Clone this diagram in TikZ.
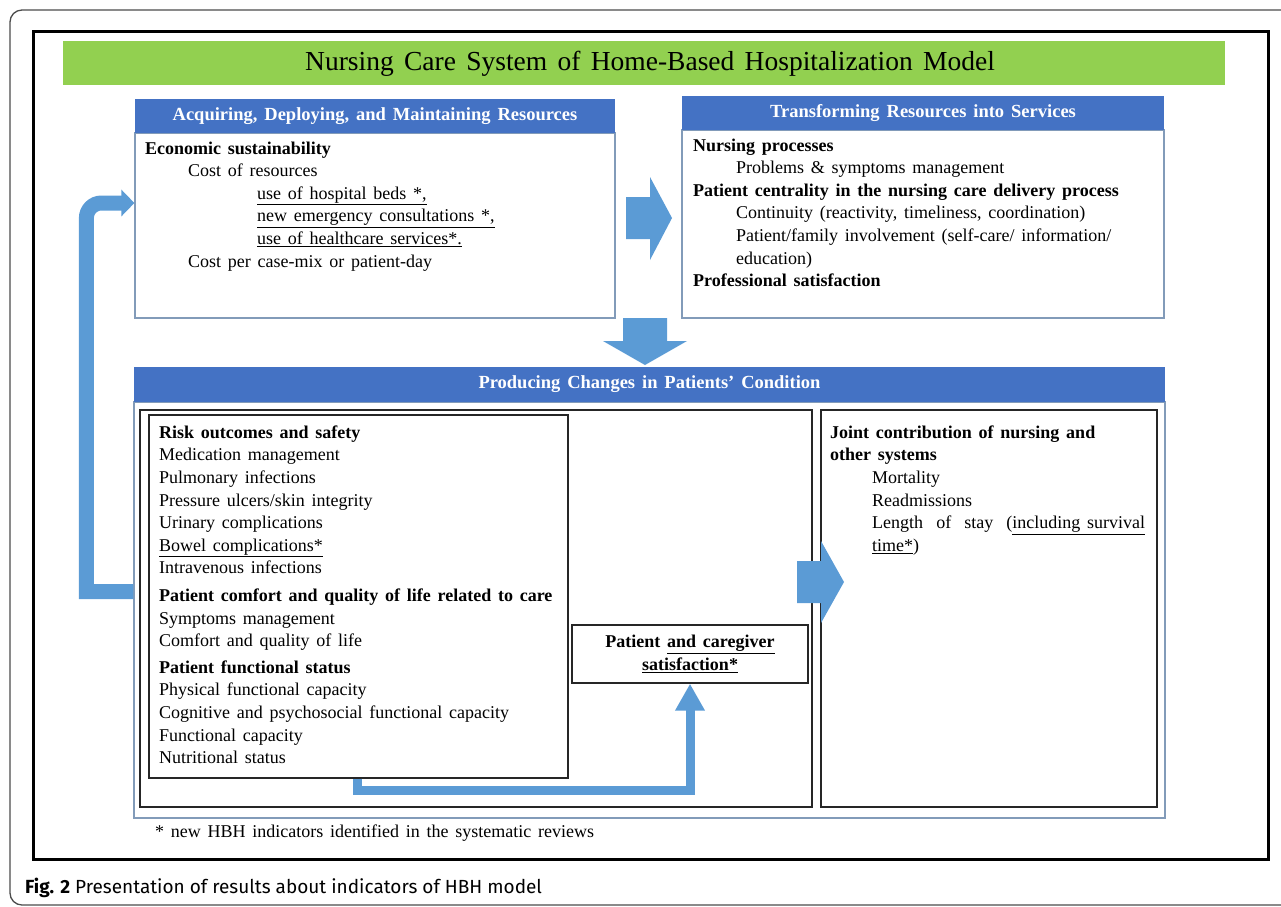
\documentclass[tikz,border=0pt]{standalone}
\usepackage{fontspec}
\setmainfont[WordSpace=1.5]{Liberation Serif}
\newfontfamily\capfont{Fira Sans}
\usetikzlibrary{arrows.meta}

\definecolor{hbhgreen}{RGB}{146,208,80}
\definecolor{hbhblue}{RGB}{68,114,196}
\definecolor{arrowblue}{RGB}{91,155,213}
\definecolor{bodyline}{RGB}{130,155,185}

\tikzset{
  hdr/.style={fill=hbhblue, text=white, inner sep=0pt, minimum height=34pt,
    font=\fontsize{18.5}{21}\selectfont\bfseries},
  panel/.style={draw=bodyline, line width=1.2pt, inner sep=0pt},
  inbox/.style={draw=black!85, line width=1.3pt, inner sep=0pt},
  txt/.style={anchor=north west, inner sep=0pt, align=left,
    font=\fontsize{18}{22.6}\selectfont},
  blockarrow/.style={fill=arrowblue},
  conn/.style={draw=arrowblue, line width=9pt, line join=miter,
    -{Triangle[width=28pt,length=27pt]}},
  fback/.style={draw=arrowblue, line width=15pt, line join=miter,
    -{Triangle[width=26pt,length=13pt]}}
}

\begin{document}
\begin{tikzpicture}[x=1pt,y=-1pt]
    \useasboundingbox (0,0) rectangle (1281,906);
    % Frames
    \draw[black!70, line width=1.3pt, rounded corners=12pt] (1300,905) -- (10,905) -- (10,10) -- (1300,10);
    \draw[line width=3pt] (33,31) rectangle (1268,859);

    % Title banner
    \node[fill=hbhgreen, minimum width=1162pt, minimum height=44pt, inner sep=0pt] (banner) at (644,63) {};
    \node[font=\fontsize{27.5}{30}\selectfont, inner sep=0pt] (title) at (650,64) {Nursing Care System of Home-Based Hospitalization Model};

    % Resources box
    \node[panel, minimum width=480pt, minimum height=185pt] (acqbody) at (375,225.5) {};
    \node[hdr, minimum width=480pt] (acqhdr) at (375,116) {Acquiring, Deploying, and Maintaining Resources};
    \node[txt] (acqtext) at (145,141.5) {\textbf{Economic sustainability}\\
        \hspace*{43pt}Cost of resources\\
        \hspace*{112pt}\underline{use of hospital beds *,}\\
        \hspace*{112pt}\underline{new emergency consultations *,}\\
        \hspace*{112pt}\underline{use of healthcare services*.}\\
        \hspace*{43pt}Cost per case-mix or patient-day};

    % Services box
    \node[panel, minimum width=482pt, minimum height=188pt] (trbody) at (923,224) {};
    \node[hdr, minimum width=482pt] (trhdr) at (923,113) {Transforming Resources into Services};
    \node[txt] (trtext) at (693,138.5) {\textbf{Nursing processes}\\
        \hspace*{43pt}Problems \& symptoms management\\
        \textbf{Patient centrality in the nursing care delivery process}\\
        \hspace*{43pt}Continuity (reactivity, timeliness, coordination)\\
        \hspace*{43pt}Patient/family involvement (self-care/ information/\\
        \hspace*{43pt}education)\\
        \textbf{Professional satisfaction}};

    % Patients' condition box
    \node[panel, minimum width=1031pt, minimum height=416pt] (prodbody) at (649.5,610) {};
    \node[hdr, minimum width=1031pt, minimum height=35pt] (prodhdr) at (649.5,384.5) {Producing Changes in Patients’ Condition};
    \node[inbox, minimum width=672pt, minimum height=397pt] (outcomes) at (476,608.5) {};
    \node[inbox, minimum width=419pt, minimum height=363pt] (list) at (358.5,596.5) {};
    \node[inbox, minimum width=236pt, minimum height=58pt] (sat) at (690,654) {};
    \node[inbox, minimum width=336pt, minimum height=397pt] (joint) at (989,608.5) {};

    \node[txt] (listtext) at (159,425.5) {\textbf{Risk outcomes and safety}\\
        Medication management\\
        Pulmonary infections\\
        Pressure ulcers/skin integrity\\
        Urinary complications\\
        \underline{Bowel complications*}\\
        Intravenous infections\\[5pt]
        \textbf{Patient comfort and quality of life related to care}\\
        Symptoms management\\
        Comfort and quality of life\\[4pt]
        \textbf{Patient functional status}\\
        Physical functional capacity\\
        Cognitive and psychosocial functional capacity\\
        Functional capacity\\
        Nutritional status};
    \node[align=center, inner sep=0pt, font=\fontsize{18}{22.6}\selectfont\bfseries] (sattext) at (sat) {Patient \underline{and caregiver}\\ \underline{satisfaction*}};
    \node[txt] (jointtext) at (830,425.5) {\textbf{Joint contribution of nursing and}\\
        \textbf{other systems}\\
        \hspace*{42pt}Mortality\\
        \hspace*{42pt}Readmissions\\
        \hspace*{42pt}\makebox[273pt][s]{Length of stay (\underline{including survival}}\\
        \hspace*{42pt}\underline{time*})};

    % Notes
    \node[anchor=west, inner sep=0pt, font=\fontsize{18}{20}\selectfont] (note) at (155,833) {* new HBH indicators identified in the systematic reviews};
    \node[anchor=west, inner sep=0pt, font=\capfont\fontsize{19}{22}\selectfont] (caption) at (25,888) {\textbf{Fig. 2} Presentation of results about indicators of HBH model};

    % Block arrows
    \fill[blockarrow] (626,197) -- (650,197) -- (650,177) -- (672,218) -- (650,260) -- (650,239) -- (626,239) -- cycle;
    \fill[blockarrow] (623,318) -- (667,318) -- (667,341) -- (687,341) -- (645,365) -- (603,341) -- (623,341) -- cycle;
    \fill[blockarrow] (797,561) -- (821,561) -- (821,541) -- (844,582) -- (821,623) -- (821,603) -- (797,603) -- cycle;

    % Connectors
    \path (prodbody.west |- list.west) ++(0,-5) coordinate (fbstart);
    \draw[fback] (fbstart) -- ++(-47,0) [rounded corners=15pt] |- ([yshift=22.5pt]acqbody.west);
    \draw[conn] ([xshift=209.5pt]list.south west) -- ++(0,12) -| (sat.south);
\end{tikzpicture}
\end{document}
